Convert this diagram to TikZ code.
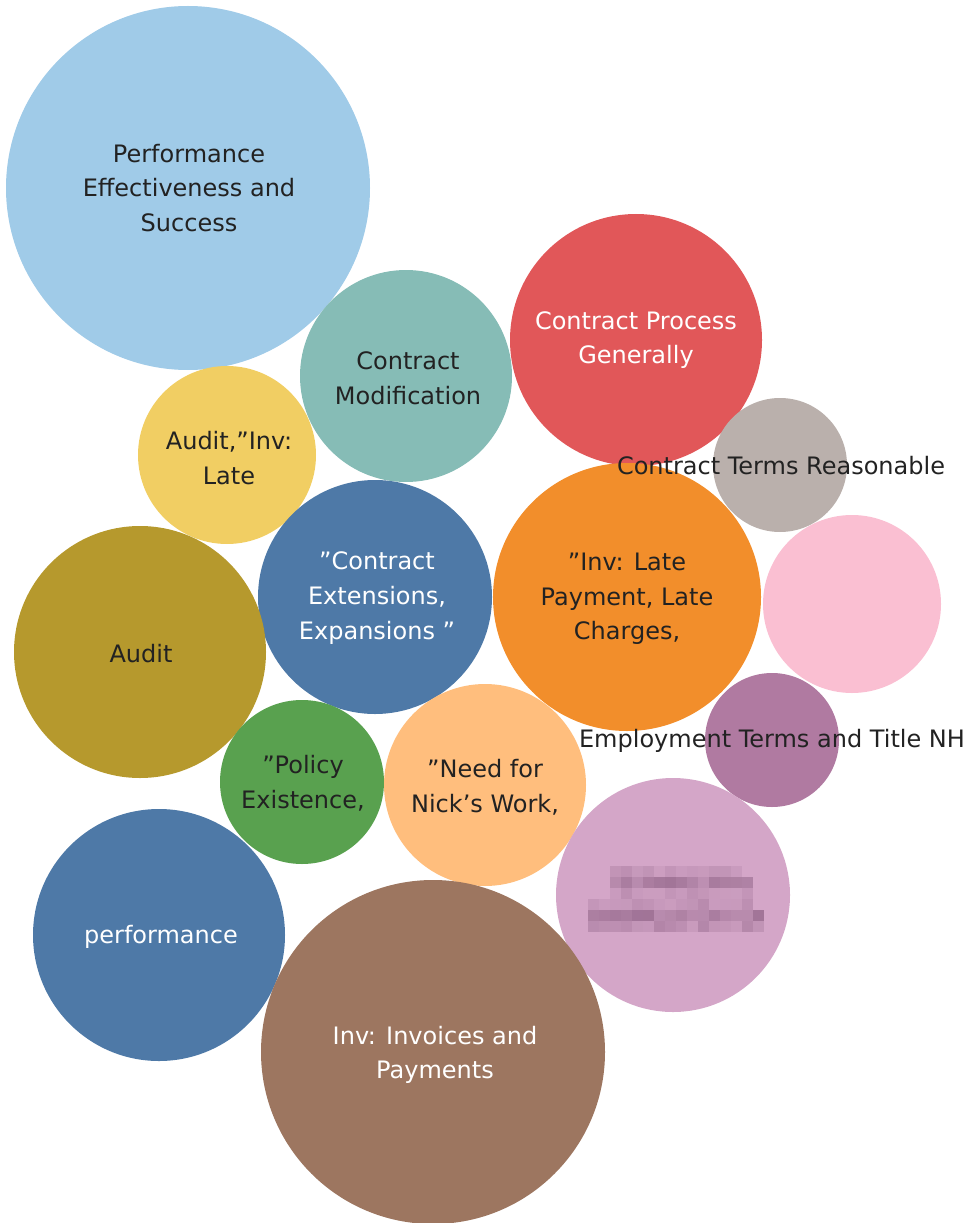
\documentclass[tikz,border=0pt]{standalone}
\usepackage{fontspec}
\setmainfont{DejaVu Sans}
\definecolor{cPerf}{HTML}{A0CBE8}
\definecolor{cMod}{HTML}{86BCB6}
\definecolor{cProc}{HTML}{E15759}
\definecolor{cAudInv}{HTML}{F1CE63}
\definecolor{cTerms}{HTML}{BAB0AC}
\definecolor{cExt}{HTML}{4E79A7}
\definecolor{cLate}{HTML}{F28E2B}
\definecolor{cPink}{HTML}{FABFD2}
\definecolor{cAudit}{HTML}{B6992D}
\definecolor{cEmp}{HTML}{B07AA1}
\definecolor{cPol}{HTML}{59A14F}
\definecolor{cNeed}{HTML}{FFBE7D}
\definecolor{cBlur}{HTML}{D4A6C8}
\definecolor{cBlurDark}{HTML}{7A4E72}
\definecolor{cInv}{HTML}{9D7660}
\definecolor{cText}{HTML}{222222}
\tikzset{
  lbl/.style={text=cText, align=center, inner sep=0.75pt, font=\fontsize{18}{26}\selectfont},
  lblw/.style={lbl, text=white}
}
\begin{document}
\begin{tikzpicture}[x=0.75pt,y=0.75pt,yscale=-1,xscale=1]
\useasboundingbox (0,0) rectangle (970,1223);

% bubble centres
\coordinate (perf) at (188,188);
\coordinate (mod) at (406,376);
\coordinate (proc) at (636,340);
\coordinate (audinv) at (227,455);
\coordinate (terms) at (780,465);
\coordinate (ext) at (375,597);
\coordinate (late) at (627,597);
\coordinate (pink) at (852,604);
\coordinate (audit) at (140,652);
\coordinate (emp) at (772,740);
\coordinate (pol) at (302,782);
\coordinate (need) at (485,785);
\coordinate (blur) at (673,895);
\coordinate (perfm) at (159,935);
\coordinate (inv) at (433,1052);

% bubbles
\fill [cPerf] (perf) circle (182);
\fill [cMod] (mod) circle (106);
\fill [cProc] (proc) circle (126);
\fill [cAudInv] (audinv) circle (89);
\fill [cTerms] (terms) circle (67);
\fill [cExt] (ext) circle (117);
\fill [cLate] (late) circle (134);
\fill [cPink] (pink) circle (89);
\fill [cAudit] (audit) circle (126);
\fill [cEmp] (emp) circle (67);
\fill [cPol] (pol) circle (82);
\fill [cNeed] (need) circle (101);
\fill [cBlur] (blur) circle (117);
\fill [cExt] (perfm) circle (126);
\fill [cInv] (inv) circle (172);

% pixelated label
\pgfmathsetseed{11}
\foreach \r/\xa/\xb/\o in {0/610/740/0.2, 1/610/750/0.45, 2/610/750/0.2, 3/588/750/0.25, 4/588/760/0.5, 5/588/760/0.3}{
  \pgfmathtruncatemacro{\n}{(\xb-\xa)/11}
  \foreach \k in {0,...,\n}{
    \pgfmathsetmacro{\op}{\o*(0.4+0.9*rnd)}
    \fill [cBlurDark, fill opacity=\op] (\xa+11*\k,866+11*\r) rectangle ++(11,11);
  }
}

% labels
\node [lbl] (perfT) at ([shift={(1,0)}]perf) {Performance\\Effectiveness and\\Success};
\node [lbl] (modT) at ([shift={(2,2)}]mod) {Contract\\Modification};
\node [lblw] (procT) at (proc) {Contract Process\\Generally};
\node [lbl] (audinvT) at ([shift={(2,3)}]audinv) {Audit,”Inv:\\Late};
\node [lbl] (termsT) at ([shift={(1,1)}]terms) {Contract Terms Reasonable};
\node [lblw] (extT) at ([shift={(2,1)}]ext) {”Contract\\Extensions,\\Expansions ”};
\node [lbl] (lateT) at ([shift={(0,2)}]late) {”Inv: Late\\Payment, Late\\Charges,};
\node [lbl] (auditT) at ([shift={(1,2)}]audit) {Audit};
\node [lbl] (empT) at ([shift={(0,1)}]emp) {Employment Terms and Title NH};
\node [lbl] (polT) at ([shift={(1,1)}]pol) {”Policy\\Existence,};
\node [lbl] (needT) at ([shift={(0,2)}]need) {”Need for\\Nick’s Work,};
\node [lblw] (perfmT) at ([shift={(2,2)}]perfm) {performance};
\node [lblw] (invT) at ([shift={(2,3)}]inv) {Inv: Invoices and\\Payments};

\end{tikzpicture}
\end{document}
